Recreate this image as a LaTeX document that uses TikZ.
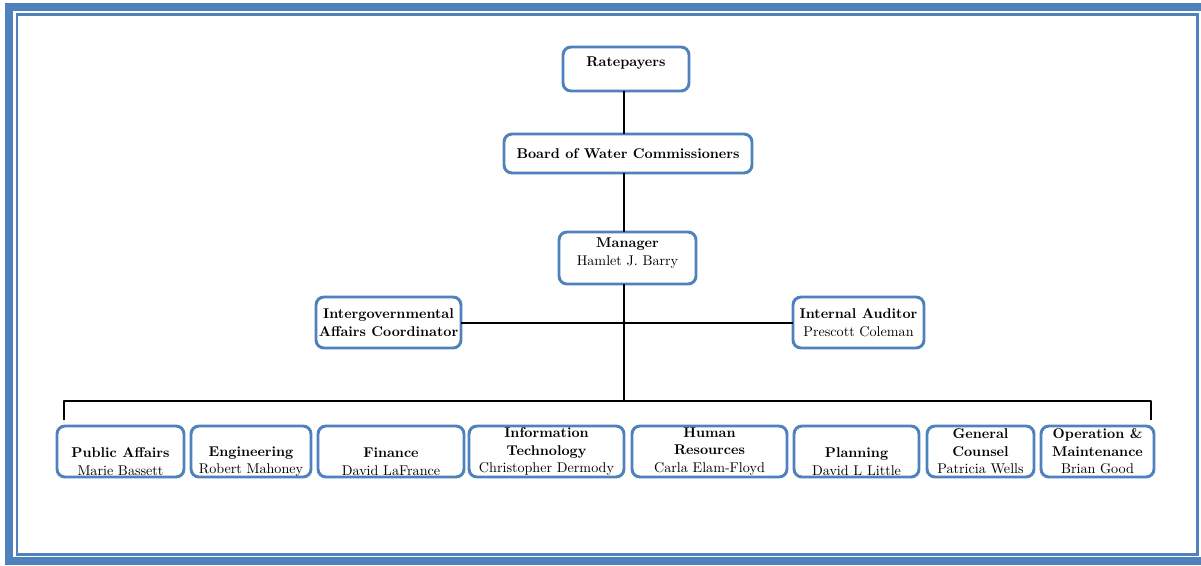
\documentclass[tikz,border=0pt]{standalone}
\usepackage{tikz}
\usetikzlibrary{arrows.meta}

\definecolor{boxblue}{HTML}{4F81BD}
\definecolor{frameblue}{HTML}{4F81BD}

\begin{document}
\begin{tikzpicture}[x=0.75pt, y=-0.75pt, line cap=round, line join=round,
  unit/.style={draw=boxblue, line width=2.2pt, rounded corners=6pt, fill=white,
    align=center, inner sep=0pt, font=\fontsize{10.6}{13.1}\selectfont},
  link/.style={line width=1.5pt, line cap=rect}]

\useasboundingbox (0,0) rectangle (1201,565);

% Cadre
\draw[frameblue, line width=6pt, line join=miter] (9,7) rectangle (1212,561);
\draw[frameblue, line width=1.9pt, line join=miter] (17,14.5) rectangle (1197.5,554.5);

% Direzione
\node[unit, minimum width=94.5pt, minimum height=33pt] (rate) at (626,69)
  {\textbf{Ratepayers}\\[-6pt] \strut};
\node[unit, minimum width=186pt, minimum height=29.25pt] (board) at (628,153.5)
  {\textbf{Board of Water Commissioners}};
\node[unit, minimum width=102.75pt, minimum height=39pt] (mgr) at (627.5,258)
  {\textbf{Manager}\\ Hamlet J. Barry\\[-7.5pt] \strut};

% Staff
\node[unit, minimum width=108.75pt, minimum height=38.25pt] (igac) at (388.5,322.5)
  {\textbf{Intergovernmental}\\ \textbf{Affairs Coordinator}};
\node[unit, minimum width=98.25pt, minimum height=38.25pt] (audit) at (858.5,322.5)
  {\textbf{Internal Auditor}\\ Prescott Coleman};

% Dipartimenti
\node[unit, minimum width=95.25pt, minimum height=38.25pt] (pa) at (120.5,451.5)
  {\strut\\ \textbf{Public Affairs}\\ Marie Bassett};
\node[unit, minimum width=90pt, minimum height=38.25pt] (eng) at (251,451.5)
  {\strut\\ \textbf{Engineering}\\ Robert Mahoney};
\node[unit, minimum width=109.5pt, minimum height=38.25pt] (fin) at (391,451.5)
  {\strut\\ \textbf{Finance}\\ David LaFrance};
\node[unit, minimum width=116.25pt, minimum height=38.25pt] (it) at (546.5,451.5)
  {\textbf{Information}\\ \textbf{Technology}\\ Christopher Dermody};
\node[unit, minimum width=116.25pt, minimum height=38.25pt] (hr) at (709.5,451.5)
  {\textbf{Human}\\ \textbf{Resources}\\ Carla Elam-Floyd};
\node[unit, minimum width=93.75pt, minimum height=38.25pt] (plan) at (856.5,451.5)
  {\strut\\ \textbf{Planning}\\ David L Little};
\node[unit, minimum width=80.25pt, minimum height=38.25pt] (gc) at (980.5,451.5)
  {\textbf{General}\\ \textbf{Counsel}\\ Patricia Wells};
\node[unit, minimum width=84.75pt, minimum height=38.25pt] (om) at (1097.5,451.5)
  {\textbf{Operation \&}\\ \textbf{Maintenance}\\ Brian Good};

% Collegamenti
\coordinate (trunk) at (624,401);
\coordinate (busL) at (64,401);
\coordinate (busR) at (1151,401);
\coordinate (dropL) at (64,419);
\coordinate (dropR) at (1151,419);

\draw[link] (rate.south -| trunk) -- (board.north -| trunk);
\draw[link] (board.south -| trunk) -- (mgr.north -| trunk);
\draw[link] (mgr.south -| trunk) -- (trunk);
\draw[link] (igac.east) -- (audit.west);
\draw[link] (dropL) -- (busL) -- (busR) -- (dropR);

\end{tikzpicture}
\end{document}
